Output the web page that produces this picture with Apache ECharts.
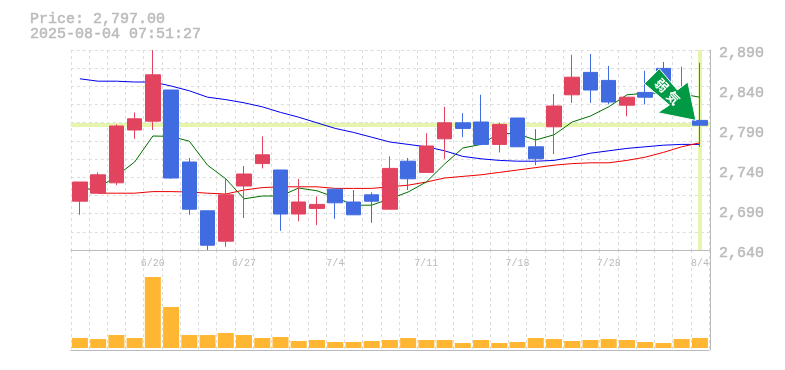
<!DOCTYPE html>
<html><head><meta charset="utf-8">
<style>html,body{margin:0;padding:0;background:#fff}#c{width:785px;height:370px}</style>
<script src="https://cdn.jsdelivr.net/npm/echarts@6/dist/echarts.min.js"></script>
</head><body><div id="c"></div>
<script>
const dates=['6/16','6/17','6/18','6/19','6/20','6/23','6/24','6/25','6/26','6/27','6/30','7/1','7/2','7/3','7/4','7/7','7/8','7/9','7/10','7/11','7/14','7/15','7/16','7/17','7/18','7/22','7/23','7/24','7/25','7/28','7/29','7/30','7/31','8/1','8/4'];
const opens=[2701,2711,2724,2790,2801,2840,2750,2689,2651,2720,2748,2740,2685,2692,2716,2700,2709,2691,2751,2737,2779,2799,2800,2772,2805,2769,2794,2834,2862,2852,2821,2837,2867,2822,2802];
const closes=[2725,2734,2795,2804,2859,2730,2691,2646,2709,2735,2759,2685,2700,2697,2699,2684,2701,2742,2729,2770,2799,2792,2772,2797,2769,2754,2820,2856,2840,2825,2831,2831,2840,2832,2796];
const lows=[2684,2711,2721,2779,2790,2729,2684,2640,2644,2680,2742,2664,2676,2671,2679,2684,2674,2691,2715,2737,2754,2781,2771,2762,2769,2746,2760,2824,2824,2822,2807,2822,2840,2815,2769];
const highs=[2725,2737,2797,2812,2890,2840,2755,2689,2729,2745,2782,2740,2729,2707,2717,2715,2712,2757,2755,2786,2819,2811,2834,2799,2805,2791,2835,2884,2885,2870,2831,2864,2875,2869,2874];
const maLong=[2854,2851,2851,2850,2850,2845,2839,2831,2828,2824,2819,2812,2806,2799,2792,2787,2781,2775,2772,2769,2764,2757,2754,2752,2751,2751,2752,2756,2761,2764,2767,2769,2771,2772,2772];
const maMid=[null,2711,2711,2711,2713,2713,2712.5,2711,2710,2715,2718,2719,2719,2719,2717,2717,2717,2719,2721,2725,2730,2732,2734,2737,2740,2743,2746,2748,2749,2749,2752,2756,2762,2769,2774];
const maShort=[2715,2717.5,2732.5,2750,2782.5,2782,2776,2746,2729,2704,2707.5,2707.5,2717.5,2714,2706,2696,2696,2704,2712.5,2725,2747.5,2767.5,2772,2786,2785,2777.5,2784,2800,2807.5,2819,2834,2836,2836,2835,2831];
const volumes=[100,90,130,100,710,410,130,130,150,130,100,110,70,80,60,60,70,80,100,80,80,50,80,50,60,100,90,70,80,90,80,60,50,90,100];
const lastPrice=2797;
const infoLines=['Price: 2,797.00','2025-08-04 07:51:27'];
const signalChars=['弱','気'];

const GRAY='#bbbbbb',GRID='#dddddd',FONT='"Liberation Mono",monospace';
const RED='#e2435f',BLUE='#416be0';
const split={show:true,interval:0,lineStyle:{color:GRID,type:[3,3],width:1}};
const heavy={textBorderColor:GRAY,textBorderWidth:0.5};
const chart=echarts.init(document.getElementById('c'),null,{renderer:'canvas'});
chart.setOption({
 animation:false,backgroundColor:'#fff',
 title:{left:25,top:7,text:infoLines.join('\n'),textStyle:{fontFamily:FONT,fontSize:15,fontWeight:'normal',color:GRAY,lineHeight:15,...heavy}},
 grid:[{left:70.8,top:50,width:638.2,height:200},{left:70.8,top:250,width:638.2,height:100}],
 xAxis:[
  {type:'category',gridIndex:0,data:dates,boundaryGap:true,
   axisLine:{show:true,onZero:false,lineStyle:{color:GRAY,width:1}},axisTick:{show:false},splitLine:split,
   axisLabel:{interval:(i)=>i%5===4,margin:8,fontFamily:FONT,fontSize:10,color:GRAY}},
  {type:'category',gridIndex:1,data:dates,boundaryGap:true,
   axisLine:{show:true,onZero:false,lineStyle:{color:GRAY,width:1}},axisTick:{show:false},splitLine:split,axisLabel:{show:false}}
 ],
 yAxis:[
  {type:'value',gridIndex:0,min:2640,max:2890,interval:50,position:'right',offset:1,
   axisLine:{show:true,lineStyle:{color:GRAY}},axisTick:{show:false},splitLine:{show:false},
   axisLabel:{margin:9,fontFamily:FONT,fontSize:15,color:GRAY,verticalAlign:'top',lineHeight:6,...heavy,formatter:v=>v.toLocaleString('en-US')}},
  {type:'value',gridIndex:0,min:0,max:11,interval:1,position:'left',
   axisLine:{show:false},axisTick:{show:false},axisLabel:{show:false},splitLine:{show:true,lineStyle:{color:GRID,type:[3,3]}}},
  {type:'value',gridIndex:1,min:-20,max:980,position:'right',offset:1,
   axisLine:{show:true,lineStyle:{color:GRAY}},axisTick:{show:false},axisLabel:{show:false},splitLine:{show:false}}
 ],
 series:[
  {type:'line',name:'band',xAxisIndex:0,yAxisIndex:0,data:[],z:1,silent:true,
   markLine:{silent:true,z:1,symbol:'none',label:{show:false},animation:false,
    lineStyle:{color:'#e5f5ab',width:4,type:'solid'},
    data:[{yAxis:lastPrice},{xAxis:dates[dates.length-1]}]}},
  {type:'line',name:'long',xAxisIndex:0,yAxisIndex:0,data:maLong,showSymbol:false,z:2,lineStyle:{color:'#0000ee',width:1}},
  {type:'line',name:'mid',xAxisIndex:0,yAxisIndex:0,data:maMid,showSymbol:false,z:2,lineStyle:{color:'#ee0000',width:1}},
  {type:'line',name:'short',xAxisIndex:0,yAxisIndex:0,data:maShort,showSymbol:false,z:2,lineStyle:{color:'#007000',width:1}},
  {type:'candlestick',xAxisIndex:0,yAxisIndex:0,barWidth:15,z:3,clip:true,
   data:dates.map((d,i)=>[opens[i],closes[i],lows[i],highs[i]]),
   itemStyle:{color:RED,color0:BLUE,borderColor:RED,borderColor0:BLUE,borderWidth:1}},
  {type:'bar',xAxisIndex:1,yAxisIndex:2,data:volumes,barWidth:16,z:3,itemStyle:{color:'#ffb733'}}
 ]
});
const tip=chart.convertToPixel({xAxisIndex:0,yAxisIndex:0},[dates[dates.length-1],lastPrice]);
const rot=-Math.PI/4;
chart.setOption({graphic:[{type:'group',x:tip[0]-4,y:tip[1]-4,children:[
 {type:'polygon',z:20,shape:{points:[[0,0],[-38,-7.7],[-26.5,-15.4],[-51.5,-36.7],[-36.5,-51.7],[-18.5,-30.4],[-8,-38.4]]},
  style:{fill:'#009944',stroke:'#ffffff',lineWidth:1}},
 {type:'text',z:21,x:-34,y:-35,rotation:rot,style:{text:signalChars[0],font:'bold 13px "Noto Sans CJK JP"',fill:'#fff',align:'center',verticalAlign:'middle'}},
 {type:'text',z:21,x:-22.5,y:-22.5,rotation:rot,style:{text:signalChars[1],font:'bold 13px "Noto Sans CJK JP"',fill:'#fff',align:'center',verticalAlign:'middle'}}
]}]});
</script></body></html>
